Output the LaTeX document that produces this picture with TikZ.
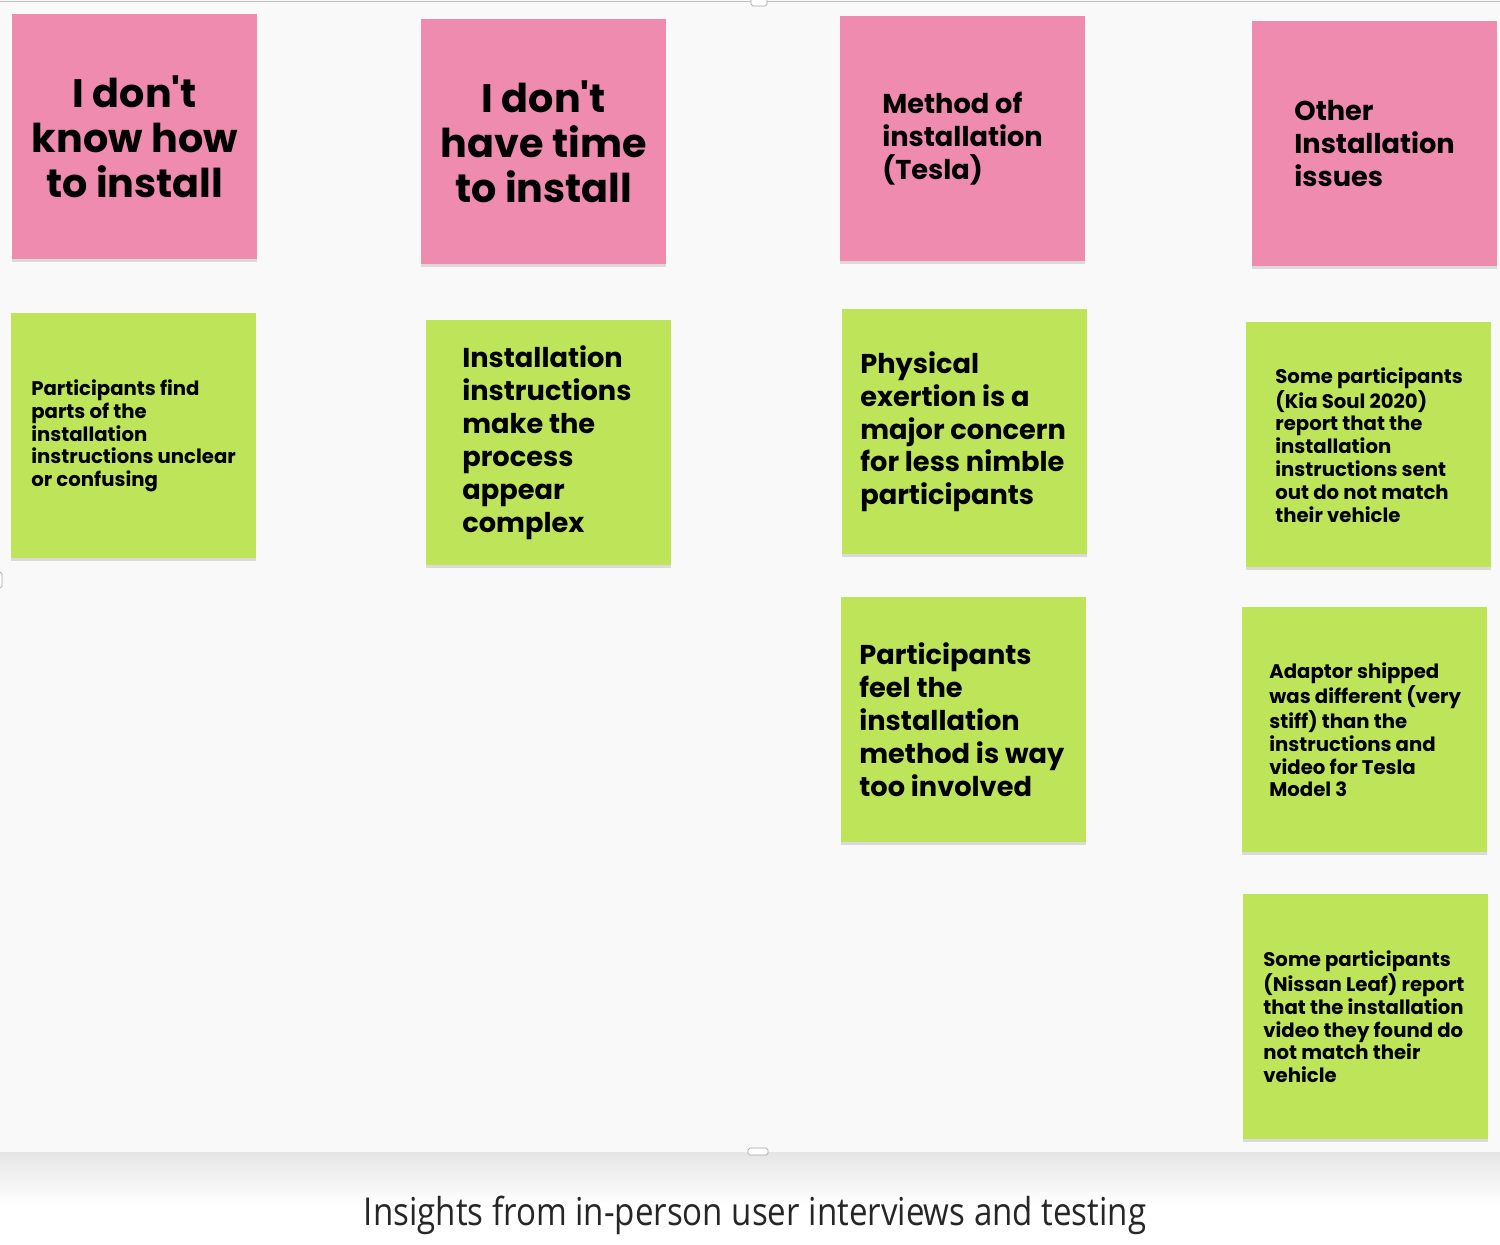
\documentclass[tikz,border=0pt]{standalone}
\usepackage{fontspec}
\setmainfont{Open Sans}
\newfontfamily\notefont{Poppins}
\newfontfamily\capfont[FakeStretch=0.86]{Open Sans}
\usetikzlibrary{positioning,shadows}
\definecolor{notepink}{RGB}{238,139,174}
\definecolor{notegreen}{RGB}{190,229,90}
\definecolor{boardgray}{RGB}{249,249,249}
\begin{document}
\begin{tikzpicture}[x=.02cm,y=-.02cm,
 card/.style={minimum width=4.9cm,minimum height=4.9cm,inner sep=0,anchor=north west,drop shadow={shadow xshift=0pt,shadow yshift=-1.5pt,opacity=.25}},
 pinknote/.style={card,fill=notepink},greennote/.style={card,fill=notegreen},
 bigtxt/.style={font=\notefont\bfseries\fontsize{22.6}{25.5}\selectfont,align=center,inner sep=0},
 midtxt/.style={font=\notefont\bfseries\fontsize{15.5}{18.7}\selectfont,align=left,anchor=west,inner sep=0},
 smalltxt/.style={font=\notefont\bfseries\fontsize{11.2}{13}\selectfont,align=left,anchor=west,inner sep=0},
 handle/.style={draw=black!35,fill=white,rounded corners=1pt,line width=.4pt}]
\useasboundingbox (0,0) rectangle (1500,1244);
% board and caption
\fill[boardgray] (0,0) rectangle (1500,1152);\draw[black!25] (0,1)--(1500,1);
\shade[top color=black!10,bottom color=white] (0,1152) rectangle (1500,1205);
\draw[handle] (751,-2) rectangle (767,6);\draw[handle] (748,1148) rectangle (768,1155);\draw[handle] (-2,572) rectangle (2,588);
\node[font=\capfont\fontsize{21.9}{26}\selectfont,text=black!85] (caption) at (755,1215){Insights from in-person user interviews and testing};
% top row
\node[pinknote] (know) at (12,14){};\node[bigtxt] (knowtxt) at (know.center){I don't\\know how\\to install};
\node[pinknote] (time) at (421,19){};\node[bigtxt] (timetxt) at (time.center){I don't\\have time\\to install};
\node[pinknote] (method) at (840,16){};\node[midtxt] (methodtxt) at ([xshift=.84cm]method.west){Method of\\installation\\(Tesla)};
\node[pinknote] (other) at (1252,21){};\node[midtxt] (othertxt) at ([xshift=.84cm]other.west){Other\\Installation\\issues};
% insights
\node[greennote] (unclear) at (11,313){};\node[smalltxt] (uncleartxt) at ([xshift=.4cm]unclear.west){Participants find\\parts of the\\installation\\instructions unclear\\or confusing};
\node[greennote] (complex) at (426,320){};\node[midtxt] (complextxt) at ([xshift=.72cm]complex.west){Installation\\instructions\\make the\\process\\appear\\complex};
\node[greennote] (exertion) at (842,309){};\node[midtxt] (exertiontxt) at ([xshift=.36cm]exertion.west){Physical\\exertion is a\\major concern\\for less nimble\\participants};
\node[greennote] (involved) at (841,597){};\node[midtxt] (involvedtxt) at ([xshift=.36cm]involved.west){Participants\\feel the\\installation\\method is way\\too involved};
\node[greennote] (kia) at (1246,322){};\node[smalltxt] (kiatxt) at ([xshift=.58cm]kia.west){Some participants\\(Kia Soul 2020)\\report that the\\installation\\instructions sent\\out do not match\\their vehicle};
\node[greennote] (adaptor) at (1242,607){};\node[smalltxt] (adaptortxt) at ([xshift=.54cm]adaptor.west){Adaptor shipped\\was different (very\\stiff) than the\\instructions and\\video for Tesla\\Model 3};
\node[greennote] (leaf) at (1243,894){};\node[smalltxt] (leaftxt) at ([xshift=.4cm]leaf.west){Some participants\\(Nissan Leaf) report\\that the installation\\video they found do\\not match their\\vehicle};
\end{tikzpicture}
\end{document}
